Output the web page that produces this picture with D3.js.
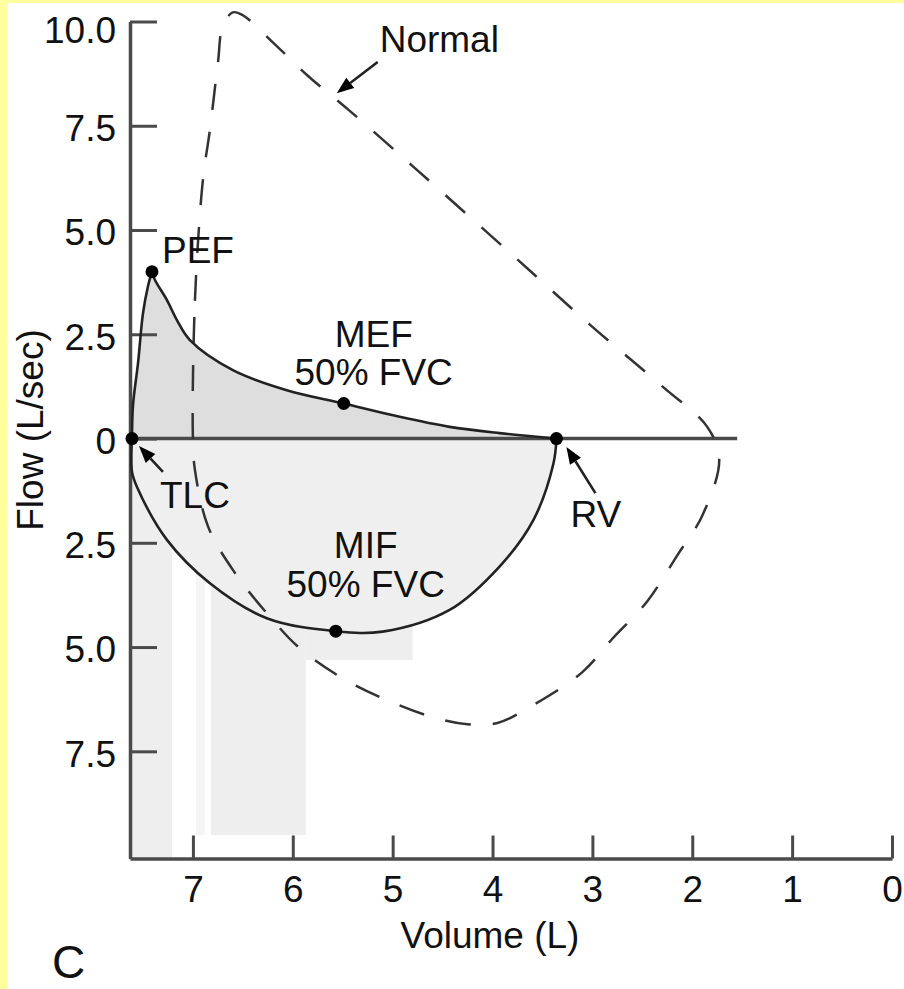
<!DOCTYPE html>
<html>
<head>
<meta charset="utf-8">
<script src="https://cdn.jsdelivr.net/npm/d3@7"></script>
<style>
  html, body { margin: 0; padding: 0; background: #ffffff; }
  svg { display: block; }
  text { font-family: "Liberation Sans", Arial, Helvetica, sans-serif; fill: #111; }
</style>
</head>
<body>
<svg id="chart" width="904" height="989"></svg>
<script>
// ---------- data (volume in L, flow in L/sec; inspiratory flow negative) ----------
const volumeTicks = [7, 6, 5, 4, 3, 2, 1, 0];
const flowTicks = [10, 7.5, 5, 2.5, 0, -2.5, -5, -7.5];
const flowTickLabels = ["10.0", "7.5", "5.0", "2.5", "0", "2.5", "5.0", "7.5"];

// obstructed loop, expiratory limb (TLC -> PEF -> RV)
const patientRise = [[7.61, 0], [7.60, 0.8], [7.55, 1.8], [7.50, 3.0], [7.45, 3.65], [7.41, 4.0]];
const patientFall = [[7.41, 4.0], [7.38, 3.8], [7.26, 3.32], [7.16, 2.84], [7.03, 2.36], [6.6, 1.64],
                     [6.06, 1.16], [5.49, 0.84], [4.93, 0.52], [4.43, 0.28], [3.93, 0.13], [3.36, 0]];
// obstructed loop, inspiratory limb (RV -> TLC)
const patientInsp = [[3.36, 0], [3.39, -0.6], [3.59, -1.95], [3.93, -3.07], [4.43, -4.11], [5.1, -4.63],
                     [5.57, -4.62], [6.26, -4.31], [6.83, -3.47], [7.26, -2.43], [7.56, -1.16], [7.61, -0.8], [7.61, 0]];
// normal loop (closed)
const normalLoop = [[7.0, 0], [6.98, 3.3], [6.9, 6.2], [6.83, 7.4], [6.75, 9.0], [6.7, 9.9], [6.6, 10.22],
                    [6.5, 10.15], [6.2, 9.5], [5.85, 8.7], [5.45, 7.9], [4.78, 6.49], [3.8, 4.4], [3.02, 2.72],
                    [2.3, 1.25], [1.85, 0.28], [1.73, -0.5], [1.9, -1.85], [2.15, -2.8], [2.45, -3.9], [2.8, -4.8],
                    [3.1, -5.6], [3.6, -6.4], [3.95, -6.82], [4.25, -6.85], [4.6, -6.68], [5.03, -6.3],
                    [5.5, -5.75], [5.92, -5.05], [6.22, -4.3], [6.6, -3.15], [6.85, -2.1], [6.98, -0.75]];

// marked points
const pointNames = ["TLC", "PEF", "MEF", "RV", "MIF"];
const pointVolumes = [7.61, 7.41, 5.49, 3.36, 5.57];
const pointFlows = [0, 4.0, 0.84, 0, -4.62];

// annotation labels
const labelTexts = ["Normal", "PEF", "MEF", "50% FVC", "TLC", "RV", "MIF", "50% FVC"];
const labelVolumes = [5.13, 7.31, 5.19, 5.19, 7.33, 3.22, 5.27, 5.27];
const labelFlows = [9.27, 4.21, 2.19, 1.28, -1.67, -2.12, -2.87, -3.80];
const labelAnchors = ["start", "start", "middle", "middle", "start", "start", "middle", "middle"];

// annotation arrows (tail -> tip)
const arrowTails = [[5.15, 9.03], [7.30, -0.80], [2.97, -1.31]];
const arrowTips = [[5.56, 8.28], [7.54, -0.18], [3.26, -0.20]];

// scan-smear shading blocks below the loop: [volumeFrom, volumeTo, flowBottom]
const smearBlocks = [[7.63, 7.21, -10.07], [6.97, 6.88, -9.51], [6.82, 5.87, -9.51], [5.87, 4.80, -5.31]];
const smearShades = ["#eeeeee", "#f5f5f5", "#eeeeee", "#eeeeee"];

// ---------- drawing ----------
const svg = d3.select("#chart");
const W = 904, H = 989;
const FONT = 37;

// page background with yellow frame (top and left)
svg.append("rect").attr("width", W).attr("height", H).attr("fill", "#ffff9e");
svg.append("rect").attr("x", 7).attr("y", 3).attr("width", W - 7).attr("height", H - 3).attr("fill", "#ffffff");

const x = d3.scaleLinear().domain([7.63, 0]).range([130, 892]);
const y = d3.scaleLinear().domain([-10.07, 10]).range([858.5, 21.5]);

const curve = d3.curveCatmullRom.alpha(0.5);
const line = d3.line().x(d => x(d[0])).y(d => y(d[1])).curve(curve);

// smear blocks
svg.append("g").selectAll("rect").data(smearBlocks).join("rect")
  .attr("x", d => x(d[0]))
  .attr("width", d => x(d[1]) - x(d[0]))
  .attr("y", y(0))
  .attr("height", d => y(d[2]) - y(0))
  .attr("fill", (d, i) => smearShades[i]);

// inspiratory fill
svg.append("path").attr("d", line(patientInsp) + "Z").attr("fill", "#efefef");
// expiratory fill
const expPath = line(patientRise) + line(patientFall).replace(/^M/, "L") + "Z";
svg.append("path").attr("d", expPath).attr("fill", "#dedede");

// zero line
svg.append("line")
  .attr("x1", x(7.63)).attr("x2", x(1.55))
  .attr("y1", y(0)).attr("y2", y(0))
  .attr("stroke", "#4a4a4a").attr("stroke-width", 3.5);

// axes
const yAxis = d3.axisLeft(y).tickValues(flowTicks).tickSizeInner(-27).tickSizeOuter(0).tickPadding(14)
  .tickFormat((d, i) => flowTickLabels[i]);
const gy = svg.append("g").attr("transform", `translate(${x(7.63)},0)`).call(yAxis);
gy.select(".domain").attr("stroke", "#4a4a4a").attr("stroke-width", 3.5);
gy.selectAll(".tick line").attr("stroke", "#4a4a4a").attr("stroke-width", 3);
gy.selectAll(".tick text").attr("font-size", FONT).attr("font-family", "Liberation Sans, Arial, sans-serif")
  .attr("fill", "#111").attr("dy", (d, i) => i === 0 ? "0.57em" : "0.4em");

const xAxis = d3.axisBottom(x).tickValues(volumeTicks).tickSizeInner(-23).tickSizeOuter(0).tickPadding(17)
  .tickFormat(d3.format("d"));
const gx = svg.append("g").attr("transform", `translate(0,${y(-10.07)})`).call(xAxis);
gx.select(".domain").attr("stroke", "#4a4a4a").attr("stroke-width", 3.5);
gx.selectAll(".tick line").attr("stroke", "#4a4a4a").attr("stroke-width", 3);
gx.selectAll(".tick text").attr("font-size", FONT).attr("font-family", "Liberation Sans, Arial, sans-serif")
  .attr("fill", "#111");

// normal loop (dashed)
svg.append("path")
  .attr("d", d3.line().x(d => x(d[0])).y(d => y(d[1])).curve(d3.curveCatmullRomClosed.alpha(0.5))(normalLoop))
  .attr("fill", "none").attr("stroke", "#333").attr("stroke-width", 2.5)
  .attr("stroke-dasharray", "26,22");

// obstructed loop (solid)
const solid = svg.append("g").attr("fill", "none").attr("stroke", "#222").attr("stroke-width", 2.6);
solid.append("path").attr("d", line(patientRise));
solid.append("path").attr("d", line(patientFall));
solid.append("path").attr("d", line(patientInsp));

// points
svg.append("g").selectAll("circle").data(pointNames).join("circle")
  .attr("cx", (d, i) => x(pointVolumes[i]))
  .attr("cy", (d, i) => y(pointFlows[i]))
  .attr("r", 6.5).attr("fill", "#000");

// arrows
const ag = svg.append("g");
arrowTails.forEach((t, i) => {
  const x1 = x(t[0]), y1 = y(t[1]), x2 = x(arrowTips[i][0]), y2 = y(arrowTips[i][1]);
  const ang = Math.atan2(y2 - y1, x2 - x1);
  const hl = 17, hw = 6.5;
  const bx = x2 - hl * Math.cos(ang), by = y2 - hl * Math.sin(ang);
  ag.append("line").attr("x1", x1).attr("y1", y1).attr("x2", bx).attr("y2", by)
    .attr("stroke", "#222").attr("stroke-width", 2.6);
  const px = -Math.sin(ang), py = Math.cos(ang);
  ag.append("path")
    .attr("d", `M${x2},${y2}L${bx + hw * px},${by + hw * py}L${bx - hw * px},${by - hw * py}Z`)
    .attr("fill", "#000");
});

// labels
svg.append("g").selectAll("text").data(labelTexts).join("text")
  .attr("x", (d, i) => x(labelVolumes[i]))
  .attr("y", (d, i) => y(labelFlows[i]))
  .attr("text-anchor", (d, i) => labelAnchors[i])
  .attr("font-size", FONT)
  .text(d => d);

// axis titles
svg.append("text").attr("x", 490).attr("y", 948).attr("text-anchor", "middle")
  .attr("font-size", FONT).text("Volume (L)");
svg.append("text").attr("transform", "translate(43,430) rotate(-90)").attr("text-anchor", "middle")
  .attr("font-size", FONT).text("Flow (L/sec)");

// panel letter
svg.append("text").attr("x", 52).attr("y", 978).attr("font-size", 46).text("C");
</script>
</body>
</html>
